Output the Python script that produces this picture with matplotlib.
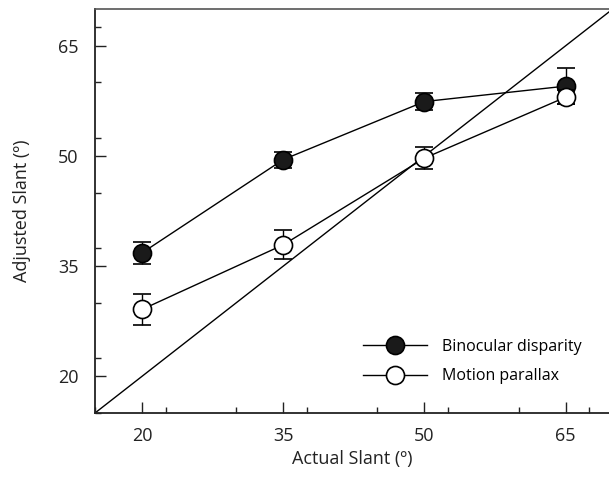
import matplotlib
matplotlib.use("Agg")
import matplotlib.pyplot as plt
from matplotlib.ticker import MultipleLocator
from matplotlib.lines import Line2D

plt.rcParams['font.family'] = ['Open Sans', 'DejaVu Sans']
plt.rcParams['xtick.direction'] = 'in'
plt.rcParams['ytick.direction'] = 'in'

actual = [20, 35, 50, 65]
binocular = [36.8, 49.5, 57.4, 59.5]
binocular_err = [1.5, 1.1, 1.1, 2.4]
motion = [29.1, 37.9, 49.7, 58.0]
motion_err = [2.1, 2.0, 1.55, 1.0]
ticks = [20, 35, 50, 65]
labels = ['Binocular disparity', 'Motion parallax']

fig = plt.figure(figsize=(6.09, 4.90), dpi=100)
ax = fig.add_axes([95/609, 77/490, 514/609, 404/490])

ax.plot([15, 70], [15, 70], color='black', lw=1.0, zorder=1)

ax.errorbar(actual, binocular, yerr=binocular_err, fmt='-o', color='black',
            mfc='#1a1a1a', mec='black', ms=13, mew=1.2, lw=1.0, elinewidth=1.0,
            capsize=6.2, capthick=1.0, zorder=3)
ax.errorbar(actual, motion, yerr=motion_err, fmt='-o', color='black',
            mfc='white', mec='black', ms=13, mew=1.2, lw=1.0, elinewidth=1.0,
            capsize=6.2, capthick=1.0, zorder=4)

ax.set_xlim(15, 69.6)
ax.set_ylim(15, 70)
ax.set_xticks(ticks)
ax.set_yticks(ticks)
ax.xaxis.set_minor_locator(MultipleLocator(7.5))
ax.yaxis.set_minor_locator(MultipleLocator(7.5))
ax.tick_params(which='major', direction='in', length=8, width=1.0, labelsize=13, colors='#222222')
ax.tick_params(which='minor', direction='in', length=4.5, width=1.0, colors='#222222')
ax.tick_params(axis='x', which='major', pad=10)
ax.tick_params(axis='y', which='major', pad=12)

for s in ['left', 'bottom']:
    ax.spines[s].set_linewidth(1.3)
    ax.spines[s].set_color('#222222')
ax.spines['top'].set_linewidth(1.2)
ax.spines['top'].set_color('#555555')
ax.spines['right'].set_visible(False)

ax.set_xlabel('Actual Slant (º)', fontsize=13, labelpad=4, color='#222222')
ax.set_ylabel('Adjusted Slant (º)', fontsize=13, labelpad=19, color='#222222')

handles = [
    Line2D([], [], color='black', lw=1.0, marker='o', ms=13, mew=1.2, mfc='#1a1a1a', mec='black'),
    Line2D([], [], color='black', lw=1.0, marker='o', ms=13, mew=1.2, mfc='white', mec='black'),
]
ax.legend(handles, labels, loc='lower right', bbox_to_anchor=(0.975, 0.035), frameon=False,
          fontsize=11.5, handlelength=4.0, handletextpad=0.95, labelspacing=0.85)

fig.savefig('out.png', dpi=100)
